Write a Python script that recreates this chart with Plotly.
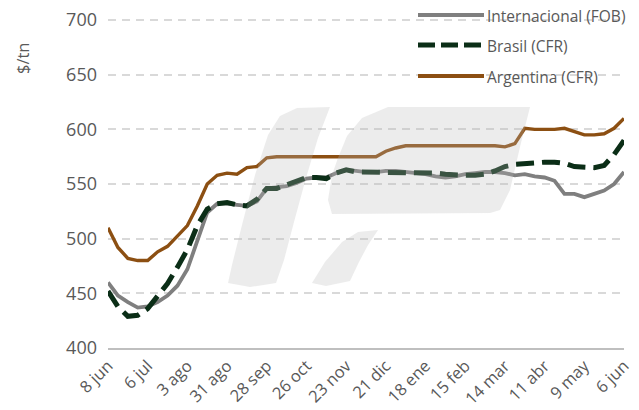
import pandas as pd
import plotly.graph_objects as go

# ---------------- data (weekly, 8 jun 2023 -> 6 jun 2024) ----------------
start_date = "2023-06-08"
n_weeks = 53

internacional = [460, 448, 442, 437, 438, 442, 448, 457, 472, 497,
                 524, 532, 532, 531, 530, 534, 546, 547, 548, 551,
                 555, 556, 556, 560, 563, 562, 561, 561, 562, 562,
                 561, 560, 559, 557, 556, 557, 559, 560, 561, 561,
                 560, 558, 559, 557, 556, 553, 541, 541, 538, 541,
                 544, 550, 561]

brasil = [452, 438, 429, 430, 436, 447, 459, 474, 490, 512,
          527, 532, 533, 531, 530, 536, 546, 546, 549, 553,
          556, 556, 555, 560, 563, 561, 561, 561, 561, 561,
          561, 561, 561, 560, 559, 558, 558, 558, 559, 562,
          566, 568, 569, 570, 570, 570, 569, 566, 565, 565,
          567, 577, 590]

argentina = [510, 492, 482, 480, 480, 488, 493, 503, 512, 530,
             550, 558, 560, 559, 565, 566, 574, 575, 575, 575,
             575, 575, 575, 575, 575, 575, 575, 575, 580, 583,
             585, 585, 585, 585, 585, 585, 585, 585, 585, 585,
             584, 587, 601, 600, 600, 600, 601, 598, 595, 595,
             596, 601, 610]

tick_labels = ["8 jun", "6 jul", "3 ago", "31 ago", "28 sep", "26 oct", "23 nov",
               "21 dic", "18 ene", "15 feb", "14 mar", "11 abr", "9 may", "6 jun"]

y_ticks = [400, 450, 500, 550, 600, 650, 700]

series_names = ["Internacional (FOB)", "Brasil (CFR)", "Argentina (CFR)"]

dates = pd.date_range(start_date, periods=n_weeks, freq="7D")
tick_vals = list(dates[::4])

# ---------------- styling ----------------
COL_INT = "#7f7f7f"
COL_BRA = "#0b2e17"
COL_ARG = "#8c4f12"
TXT = "#595959"
FONT = "Open Sans"

# page body margin is removed in post_script; plot box in the window: x 108..624, y 19..348
W, H = 639, 410
L, T = 108, 19
PW, PH = 516, 329
R, B = W - L - PW, H - T - PH


def px(x, y):
    """window pixel position -> paper coordinates (decoration only)"""
    return (x - L) / PW, (T + PH - y) / PH


fig = go.Figure()
fig.add_trace(go.Scatter(x=dates, y=internacional, mode="lines", name=series_names[0],
                         line=dict(color=COL_INT, width=3.8)))
fig.add_trace(go.Scatter(x=dates, y=brasil, mode="lines", name=series_names[1],
                         line=dict(color=COL_BRA, width=5, dash="18px,8px")))
fig.add_trace(go.Scatter(x=dates, y=argentina, mode="lines", name=series_names[2],
                         line=dict(color=COL_ARG, width=3.4)))

shapes = []

# watermark logo (semi-transparent overlay)
logo_parts = [
    [(297, 108), (280, 116), (268, 135), (255, 175), (242, 225), (232, 265), (228, 283),
     (250, 287), (276, 283), (284, 260), (294, 222), (306, 178), (318, 138), (330, 107)],
    [(388, 107), (530, 107), (520, 147), (510, 190), (500, 210), (490, 213), (332, 214),
     (328, 200), (332, 175), (338, 158), (347, 136), (362, 118)],
    [(378, 230), (358, 232), (342, 242), (325, 262), (312, 283), (326, 286), (350, 281),
     (359, 262), (368, 245)],
]
for part in logo_parts:
    pts = [px(x, y) for x, y in part]
    path = "M " + " L ".join(f"{a:.4f},{b:.4f}" for a, b in pts) + " Z"
    shapes.append(dict(type="path", xref="paper", yref="paper", path=path,
                       fillcolor="rgba(185,185,185,0.27)", line=dict(width=0),
                       layer="above"))

# manual legend
legend_rows = [(15, COL_INT, 4, "solid"), (45, COL_BRA, 5, "17px,6px"), (76, COL_ARG, 4, "solid")]
annotations = []
for (yy, col, w, dash), name in zip(legend_rows, series_names):
    x0, y0 = px(418, yy)
    x1, _ = px(484, yy)
    shapes.append(dict(type="line", xref="paper", yref="paper", x0=x0, x1=x1, y0=y0, y1=y0,
                       line=dict(color=col, width=w, dash=dash)))
    tx, ty = px(486, yy + 1)
    annotations.append(dict(xref="paper", yref="paper", x=tx, y=ty, text=name,
                            showarrow=False, xanchor="left", yanchor="middle", borderpad=0,
                            font=dict(family=FONT, size=15.5, color=TXT)))

# y axis title
ax, ay = px(22, 58)
annotations.append(dict(xref="paper", yref="paper", x=ax, y=ay, text="$/tn", textangle=-90,
                        showarrow=False, xanchor="center", yanchor="middle",
                        font=dict(family=FONT, size=16.5, color=TXT)))

fig.update_layout(
    width=W, height=H,
    margin=dict(l=L, r=R, t=T, b=B, autoexpand=False),
    paper_bgcolor="white", plot_bgcolor="white",
    showlegend=False,
    font=dict(family=FONT, color=TXT),
    shapes=shapes,
    annotations=annotations,
    xaxis=dict(range=[dates[0], dates[-1]], tickvals=tick_vals, ticktext=tick_labels,
               tickangle=-45, showgrid=False, zeroline=False, showline=True,
               linecolor="#bfbfbf", linewidth=1.5, ticks="", automargin=False,
               ticklabeloverflow="allow",
               tickfont=dict(family=FONT, size=16.5, color=TXT)),
    yaxis=dict(range=[400, 701], tickvals=y_ticks,
               showgrid=True, gridcolor="#d9d9d9", gridwidth=1.5, griddash="8px,6px",
               zeroline=False, showline=False, ticks="", ticklabelstandoff=10,
               automargin=False, ticklabeloverflow="allow",
               tickfont=dict(family=FONT, size=18, color=TXT)),
)

fig.write_html("out.html", config={"displayModeBar": False},
               post_script="document.body.style.margin='0';")
